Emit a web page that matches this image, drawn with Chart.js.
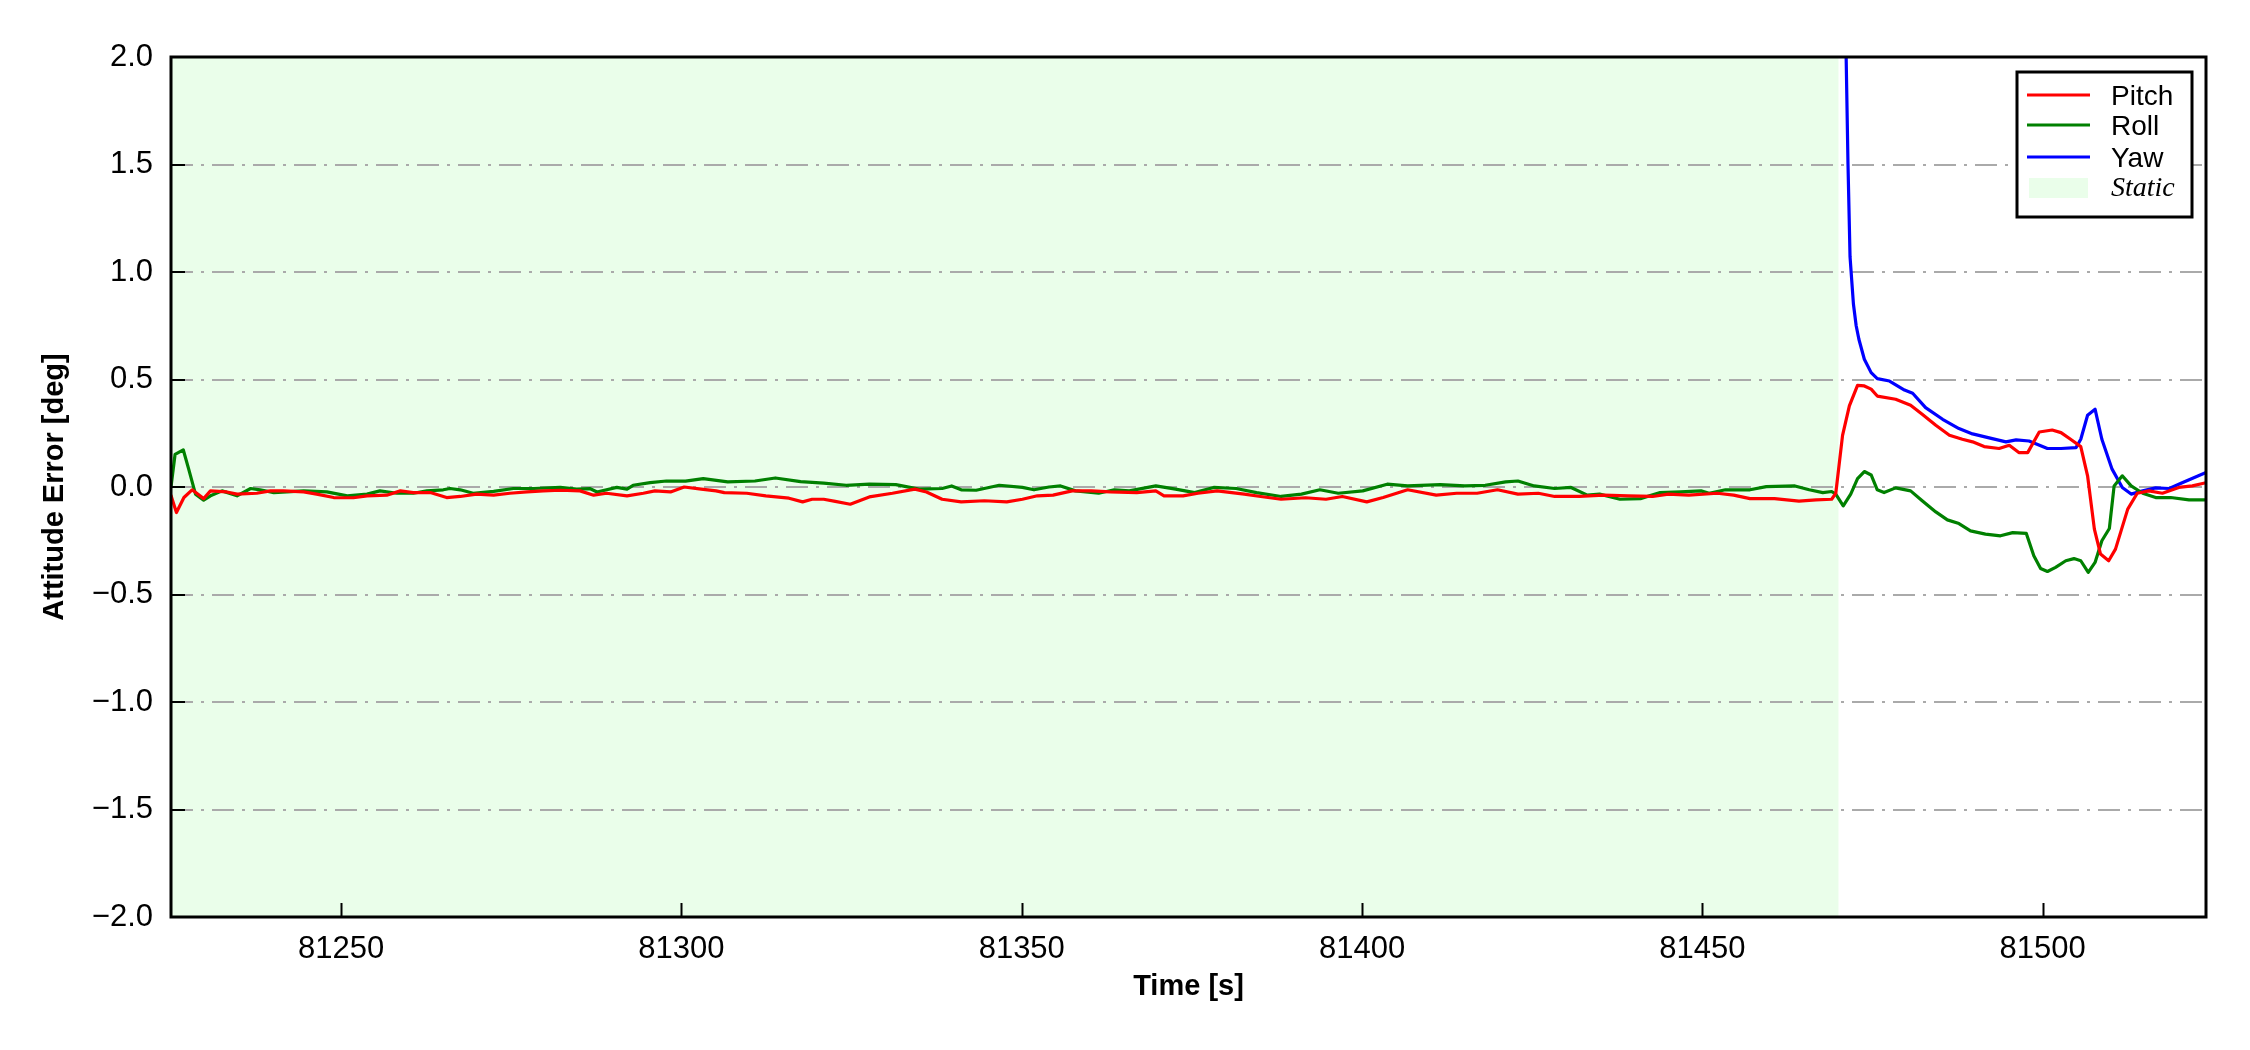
<!DOCTYPE html>
<html>
<head>
<meta charset="utf-8">
<title>Attitude Error</title>
<script src="https://cdn.jsdelivr.net/npm/chart.js@4.4.1/dist/chart.umd.min.js"></script>
<style>
  html, body { margin: 0; padding: 0; background: #fff; }
  #wrap { width: 2250px; height: 1050px; }
</style>
</head>
<body>
<div id="wrap"><canvas id="chart" width="2250" height="1050"></canvas></div>
<script>
// ---- data ----
var xTicks = [81250, 81300, 81350, 81400, 81450, 81500];
var yTicks = [-2.0, -1.5, -1.0, -0.5, 0.0, 0.5, 1.0, 1.5, 2.0];
var staticSpan = [81225, 81470];

var pitchT = [81225.0, 81225.8, 81226.9, 81228.1, 81229.8, 81230.8, 81233.2, 81234.7, 81237.6, 81239.6,
  81241.5, 81244.5, 81246.4, 81248.9, 81251.8, 81253.8, 81256.7, 81258.7, 81260.6, 81263.1,
  81265.5, 81267.5, 81269.9, 81272.4, 81274.8, 81277.3, 81279.7, 81282.2, 81285.1, 81287.1,
  81289.0, 81292.0, 81294.4, 81296.1, 81298.4, 81300.4, 81302.9, 81305.1, 81306.3, 81309.6,
  81312.4, 81315.8, 81317.8, 81319.2, 81320.9, 81322.6, 81324.8, 81327.6, 81331.0, 81334.3,
  81336.0, 81338.3, 81341.1, 81344.5, 81347.8, 81350.1, 81352.3, 81354.6, 81357.4, 81360.2,
  81363.0, 81366.9, 81369.7, 81370.9, 81373.7, 81375.9, 81378.7, 81382.7, 81385.1, 81388.1,
  81391.7, 81394.7, 81397.1, 81400.7, 81403.1, 81406.7, 81410.9, 81413.9, 81416.9, 81419.9,
  81422.9, 81425.9, 81428.3, 81431.9, 81435.5, 81439.1, 81442.7, 81445.0, 81448.0, 81452.2,
  81454.6, 81457.0, 81460.6, 81464.2, 81466.7, 81469.0, 81469.6, 81470.6, 81471.6, 81472.8,
  81473.8, 81474.8, 81475.7, 81478.4, 81480.6, 81482.3, 81484.3, 81486.3, 81488.2, 81489.7,
  81491.4, 81493.6, 81495.1, 81496.5, 81497.8, 81499.5, 81501.4, 81502.7, 81504.1, 81505.6,
  81506.6, 81507.6, 81508.5, 81509.7, 81510.7, 81512.5, 81513.9, 81515.6, 81517.6, 81520.0,
  81522.0, 81524.0];
var pitch = [-0.04, -0.119, -0.049, -0.013, -0.054, -0.018, -0.023, -0.033, -0.029, -0.018,
  -0.018, -0.023, -0.033, -0.049, -0.05, -0.041, -0.038, -0.018, -0.026, -0.026,
  -0.049, -0.044, -0.033, -0.038, -0.029, -0.023, -0.018, -0.015, -0.018, -0.038,
  -0.029, -0.041, -0.029, -0.018, -0.023, 0.0, -0.01, -0.018, -0.026, -0.029,
  -0.041, -0.052, -0.069, -0.057, -0.057, -0.067, -0.08, -0.046, -0.029, -0.01,
  -0.023, -0.057, -0.069, -0.064, -0.069, -0.057, -0.041, -0.038, -0.018, -0.018,
  -0.023, -0.026, -0.018, -0.041, -0.041, -0.029, -0.018, -0.033, -0.044, -0.057,
  -0.05, -0.057, -0.044, -0.069, -0.049, -0.013, -0.038, -0.029, -0.029, -0.013,
  -0.033, -0.029, -0.044, -0.044, -0.038, -0.041, -0.044, -0.033, -0.038, -0.029,
  -0.038, -0.054, -0.054, -0.066, -0.06, -0.057, -0.03, 0.24, 0.377, 0.473,
  0.47, 0.455, 0.423, 0.408, 0.38, 0.338, 0.287, 0.241, 0.222, 0.21,
  0.188, 0.179, 0.194, 0.16, 0.16, 0.256, 0.265, 0.253, 0.222, 0.188,
  0.052, -0.196, -0.312, -0.343, -0.289, -0.103, -0.029, -0.018, -0.029, -0.002,
  0.005, 0.02];

var rollT = [81225.0, 81225.6, 81226.8, 81227.6, 81228.6, 81229.8, 81230.8, 81232.5, 81234.7, 81236.7,
  81238.1, 81240.1, 81242.0, 81244.5, 81247.9, 81250.9, 81253.8, 81255.7, 81258.2, 81260.6,
  81262.6, 81265.0, 81266.0, 81267.5, 81269.4, 81272.4, 81275.3, 81278.3, 81282.2, 81284.6,
  81286.6, 81287.6, 81290.5, 81292.0, 81292.9, 81295.4, 81297.8, 81300.6, 81303.2, 81306.8,
  81310.8, 81313.8, 81317.5, 81320.9, 81324.2, 81327.6, 81331.5, 81334.9, 81338.3, 81339.7,
  81341.1, 81343.3, 81346.7, 81350.1, 81351.8, 81354.0, 81355.7, 81357.9, 81361.3, 81363.6,
  81365.8, 81369.7, 81372.6, 81375.4, 81378.2, 81381.5, 81384.5, 81388.1, 81391.1, 81393.8,
  81396.5, 81400.1, 81403.7, 81406.7, 81411.5, 81415.1, 81418.1, 81421.1, 81422.9, 81425.3,
  81428.3, 81430.7, 81433.1, 81434.9, 81437.9, 81440.9, 81443.8, 81446.8, 81449.8, 81451.0,
  81453.4, 81457.0, 81459.4, 81463.6, 81465.7, 81467.7, 81469.0, 81469.6, 81470.7, 81471.8,
  81472.8, 81473.8, 81474.8, 81475.7, 81476.7, 81478.4, 81480.6, 81482.3, 81484.3, 81486.0,
  81487.7, 81489.4, 81491.6, 81493.8, 81495.6, 81497.6, 81498.7, 81499.7, 81500.7, 81501.9,
  81503.4, 81504.6, 81505.6, 81506.7, 81507.7, 81508.7, 81509.8, 81510.5, 81511.7, 81513.0,
  81514.7, 81516.6, 81518.8, 81521.5, 81524.0];
var roll = [0.0, 0.152, 0.173, 0.083, -0.033, -0.061, -0.041, -0.018, -0.041, -0.007,
  -0.013, -0.026, -0.023, -0.018, -0.023, -0.041, -0.033, -0.018, -0.029, -0.029,
  -0.018, -0.013, -0.007, -0.013, -0.029, -0.02, -0.007, -0.007, -0.002, -0.01,
  -0.008, -0.023, -0.002, -0.01, 0.008, 0.02, 0.028, 0.027, 0.039, 0.024,
  0.028, 0.042, 0.025, 0.018, 0.008, 0.013, 0.011, -0.01, -0.007, 0.005,
  -0.013, -0.015, 0.008, -0.002, -0.013, 0.0, 0.005, -0.018, -0.029, -0.013,
  -0.018, 0.005, -0.01, -0.026, -0.002, -0.007, -0.026, -0.044, -0.033, -0.013,
  -0.029, -0.018, 0.013, 0.005, 0.011, 0.005, 0.008, 0.024, 0.028, 0.005,
  -0.007, -0.002, -0.038, -0.033, -0.057, -0.054, -0.026, -0.023, -0.018, -0.029,
  -0.013, -0.013, 0.002, 0.005, -0.013, -0.026, -0.021, -0.033, -0.088, -0.033,
  0.039, 0.072, 0.056, -0.013, -0.026, -0.004, -0.018, -0.064, -0.116, -0.153,
  -0.17, -0.204, -0.219, -0.227, -0.212, -0.216, -0.32, -0.379, -0.393, -0.374,
  -0.343, -0.333, -0.343, -0.397, -0.351, -0.25, -0.193, 0.005, 0.052, 0.005,
  -0.029, -0.049, -0.049, -0.06, -0.06];

var yawT = [81470.5, 81471.1, 81471.4, 81471.7, 81472.2, 81472.6, 81473.0, 81473.8, 81474.8, 81475.7,
  81477.5, 81479.7, 81480.9, 81482.8, 81485.3, 81487.7, 81489.7, 81492.6, 81494.6, 81496.1,
  81498.0, 81500.7, 81502.7, 81504.9, 81505.6, 81506.6, 81507.7, 81508.7, 81510.2, 81511.7,
  81513.0, 81514.7, 81516.6, 81518.6, 81520.5, 81524.0];
var yaw = [6.0, 2.05, 1.5, 1.07, 0.85, 0.75, 0.687, 0.594, 0.532, 0.504,
  0.493, 0.451, 0.436, 0.369, 0.315, 0.272, 0.247, 0.225, 0.21, 0.219,
  0.214, 0.179, 0.179, 0.183, 0.222, 0.334, 0.362, 0.222, 0.083, -0.002,
  -0.033, -0.018, -0.004, -0.007, 0.02, 0.067];

var seriesNames = ['Pitch', 'Roll', 'Yaw'];
var seriesColors = ['#ff0000', '#008000', '#0000ff'];
var staticLabel = 'Static';
var staticColor = '#eafeea';

function pairs(ts, vs) {
  var out = [];
  for (var i = 0; i < ts.length; i++) out.push({ x: ts[i], y: vs[i] });
  return out;
}

var FONT = "'Liberation Sans', Arial, Helvetica, sans-serif";

// static shading behind the grid
var staticPlugin = {
  id: 'staticSpan',
  beforeDraw: function(chart) {
    var a = chart.chartArea, xs = chart.scales.x, ctx = chart.ctx;
    var x0 = Math.max(a.left, xs.getPixelForValue(staticSpan[0]));
    var x1 = Math.min(a.right, xs.getPixelForValue(staticSpan[1]));
    ctx.save();
    ctx.fillStyle = staticColor;
    ctx.fillRect(x0, a.top, x1 - x0, a.bottom - a.top);
    ctx.restore();
  }
};

// frame + inward ticks + boxed legend, matplotlib style
var framePlugin = {
  id: 'frame',
  afterDatasetsDraw: function(chart) {
    var a = chart.chartArea, ctx = chart.ctx;
    var xs = chart.scales.x, ys = chart.scales.y;
    ctx.save();
    ctx.strokeStyle = '#000';
    ctx.lineWidth = 2;
    ctx.beginPath();
    xTicks.forEach(function(t) {
      var px = Math.round(xs.getPixelForValue(t)) + 0.5;
      ctx.moveTo(px, a.bottom); ctx.lineTo(px, a.bottom - 14);
    });
    yTicks.forEach(function(t) {
      var py = Math.round(ys.getPixelForValue(t));
      ctx.moveTo(a.left, py); ctx.lineTo(a.left + 14, py);
    });
    ctx.stroke();
    ctx.lineWidth = 3;
    ctx.strokeRect(a.left, a.top, a.right - a.left, a.bottom - a.top);
    ctx.restore();
  },
  afterDraw: function(chart) {
    var a = chart.chartArea, ctx = chart.ctx;
    var bx = a.right - 189, by = a.top + 15, bw = 175, bh = 145;
    ctx.save();
    ctx.fillStyle = '#fff';
    ctx.fillRect(bx, by, bw, bh);
    ctx.strokeStyle = '#000';
    ctx.lineWidth = 3;
    ctx.strokeRect(bx, by, bw, bh);
    var rowY = [by + 23, by + 53, by + 85, by + 116];
    ctx.textBaseline = 'middle';
    ctx.textAlign = 'left';
    ctx.fillStyle = '#000';
    for (var i = 0; i < seriesNames.length; i++) {
      ctx.strokeStyle = seriesColors[i];
      ctx.lineWidth = 3.2;
      ctx.beginPath();
      ctx.moveTo(bx + 10, rowY[i]); ctx.lineTo(bx + 73, rowY[i]);
      ctx.stroke();
      ctx.fillStyle = '#000';
      ctx.font = '28px ' + FONT;
      ctx.fillText(seriesNames[i], bx + 94, rowY[i] + 2);
    }
    ctx.fillStyle = staticColor;
    ctx.fillRect(bx + 12, rowY[3] - 10, 59, 20);
    ctx.fillStyle = '#000';
    ctx.font = "italic 28px 'Liberation Serif', 'Times New Roman', serif";
    ctx.fillText(staticLabel, bx + 94, rowY[3] + 1);
    ctx.restore();
  }
};

var fmtY = function(v) {
  var s = Number(v).toFixed(1);
  if (s === '-0.0') s = '0.0';
  return s.replace('-', '\u2212');
};

new Chart(document.getElementById('chart'), {
  type: 'line',
  data: {
    datasets: [
      { label: seriesNames[0], data: pairs(pitchT, pitch), borderColor: seriesColors[0] },
      { label: seriesNames[1], data: pairs(rollT, roll), borderColor: seriesColors[1] },
      { label: seriesNames[2], data: pairs(yawT, yaw), borderColor: seriesColors[2] }
    ]
  },
  options: {
    responsive: false,
    animation: false,
    devicePixelRatio: 1,
    layout: { padding: { top: 57, right: 44, left: 0, bottom: 0 } },
    elements: {
      line: { borderWidth: 3.2, tension: 0, fill: false, borderJoinStyle: 'round', borderCapStyle: 'round' },
      point: { radius: 0, hoverRadius: 0 }
    },
    plugins: {
      legend: { display: false },
      tooltip: { enabled: false }
    },
    scales: {
      x: {
        type: 'linear',
        min: 81225,
        max: 81524,
        afterBuildTicks: function(scale) {
          scale.ticks = xTicks.map(function(v) { return { value: v }; });
        },
        afterFit: function(scale) { scale.height = 133; },
        grid: { display: false, drawTicks: false },
        border: { display: false },
        ticks: {
          color: '#000',
          padding: 14,
          maxRotation: 0,
          font: { family: FONT, size: 31 },
          callback: function(v) { return String(v); }
        },
        title: {
          display: true,
          text: 'Time [s]',
          color: '#000',
          font: { family: FONT, size: 29, weight: 'bold' },
          padding: { top: 0, bottom: 46 }
        }
      },
      y: {
        min: -2,
        max: 2,
        afterBuildTicks: function(scale) {
          scale.ticks = yTicks.map(function(v) { return { value: v }; });
        },
        afterFit: function(scale) { scale.width = 171; },
        grid: {
          color: function(c) {
            return (c.tick && Math.abs(c.tick.value) === 2) ? 'rgba(0,0,0,0)' : '#aaaaaa';
          },
          lineWidth: 2,
          drawTicks: false
        },
        border: { display: false, dash: [22, 8, 3, 8] },
        ticks: {
          color: '#000',
          padding: 18,
          font: { family: FONT, size: 31 },
          callback: fmtY
        },
        title: {
          display: true,
          text: 'Attitude Error [deg]',
          color: '#000',
          font: { family: FONT, size: 29, weight: 'bold' },
          padding: { top: 38, bottom: 0 }
        }
      }
    }
  },
  plugins: [staticPlugin, framePlugin]
});
</script>
</body>
</html>
